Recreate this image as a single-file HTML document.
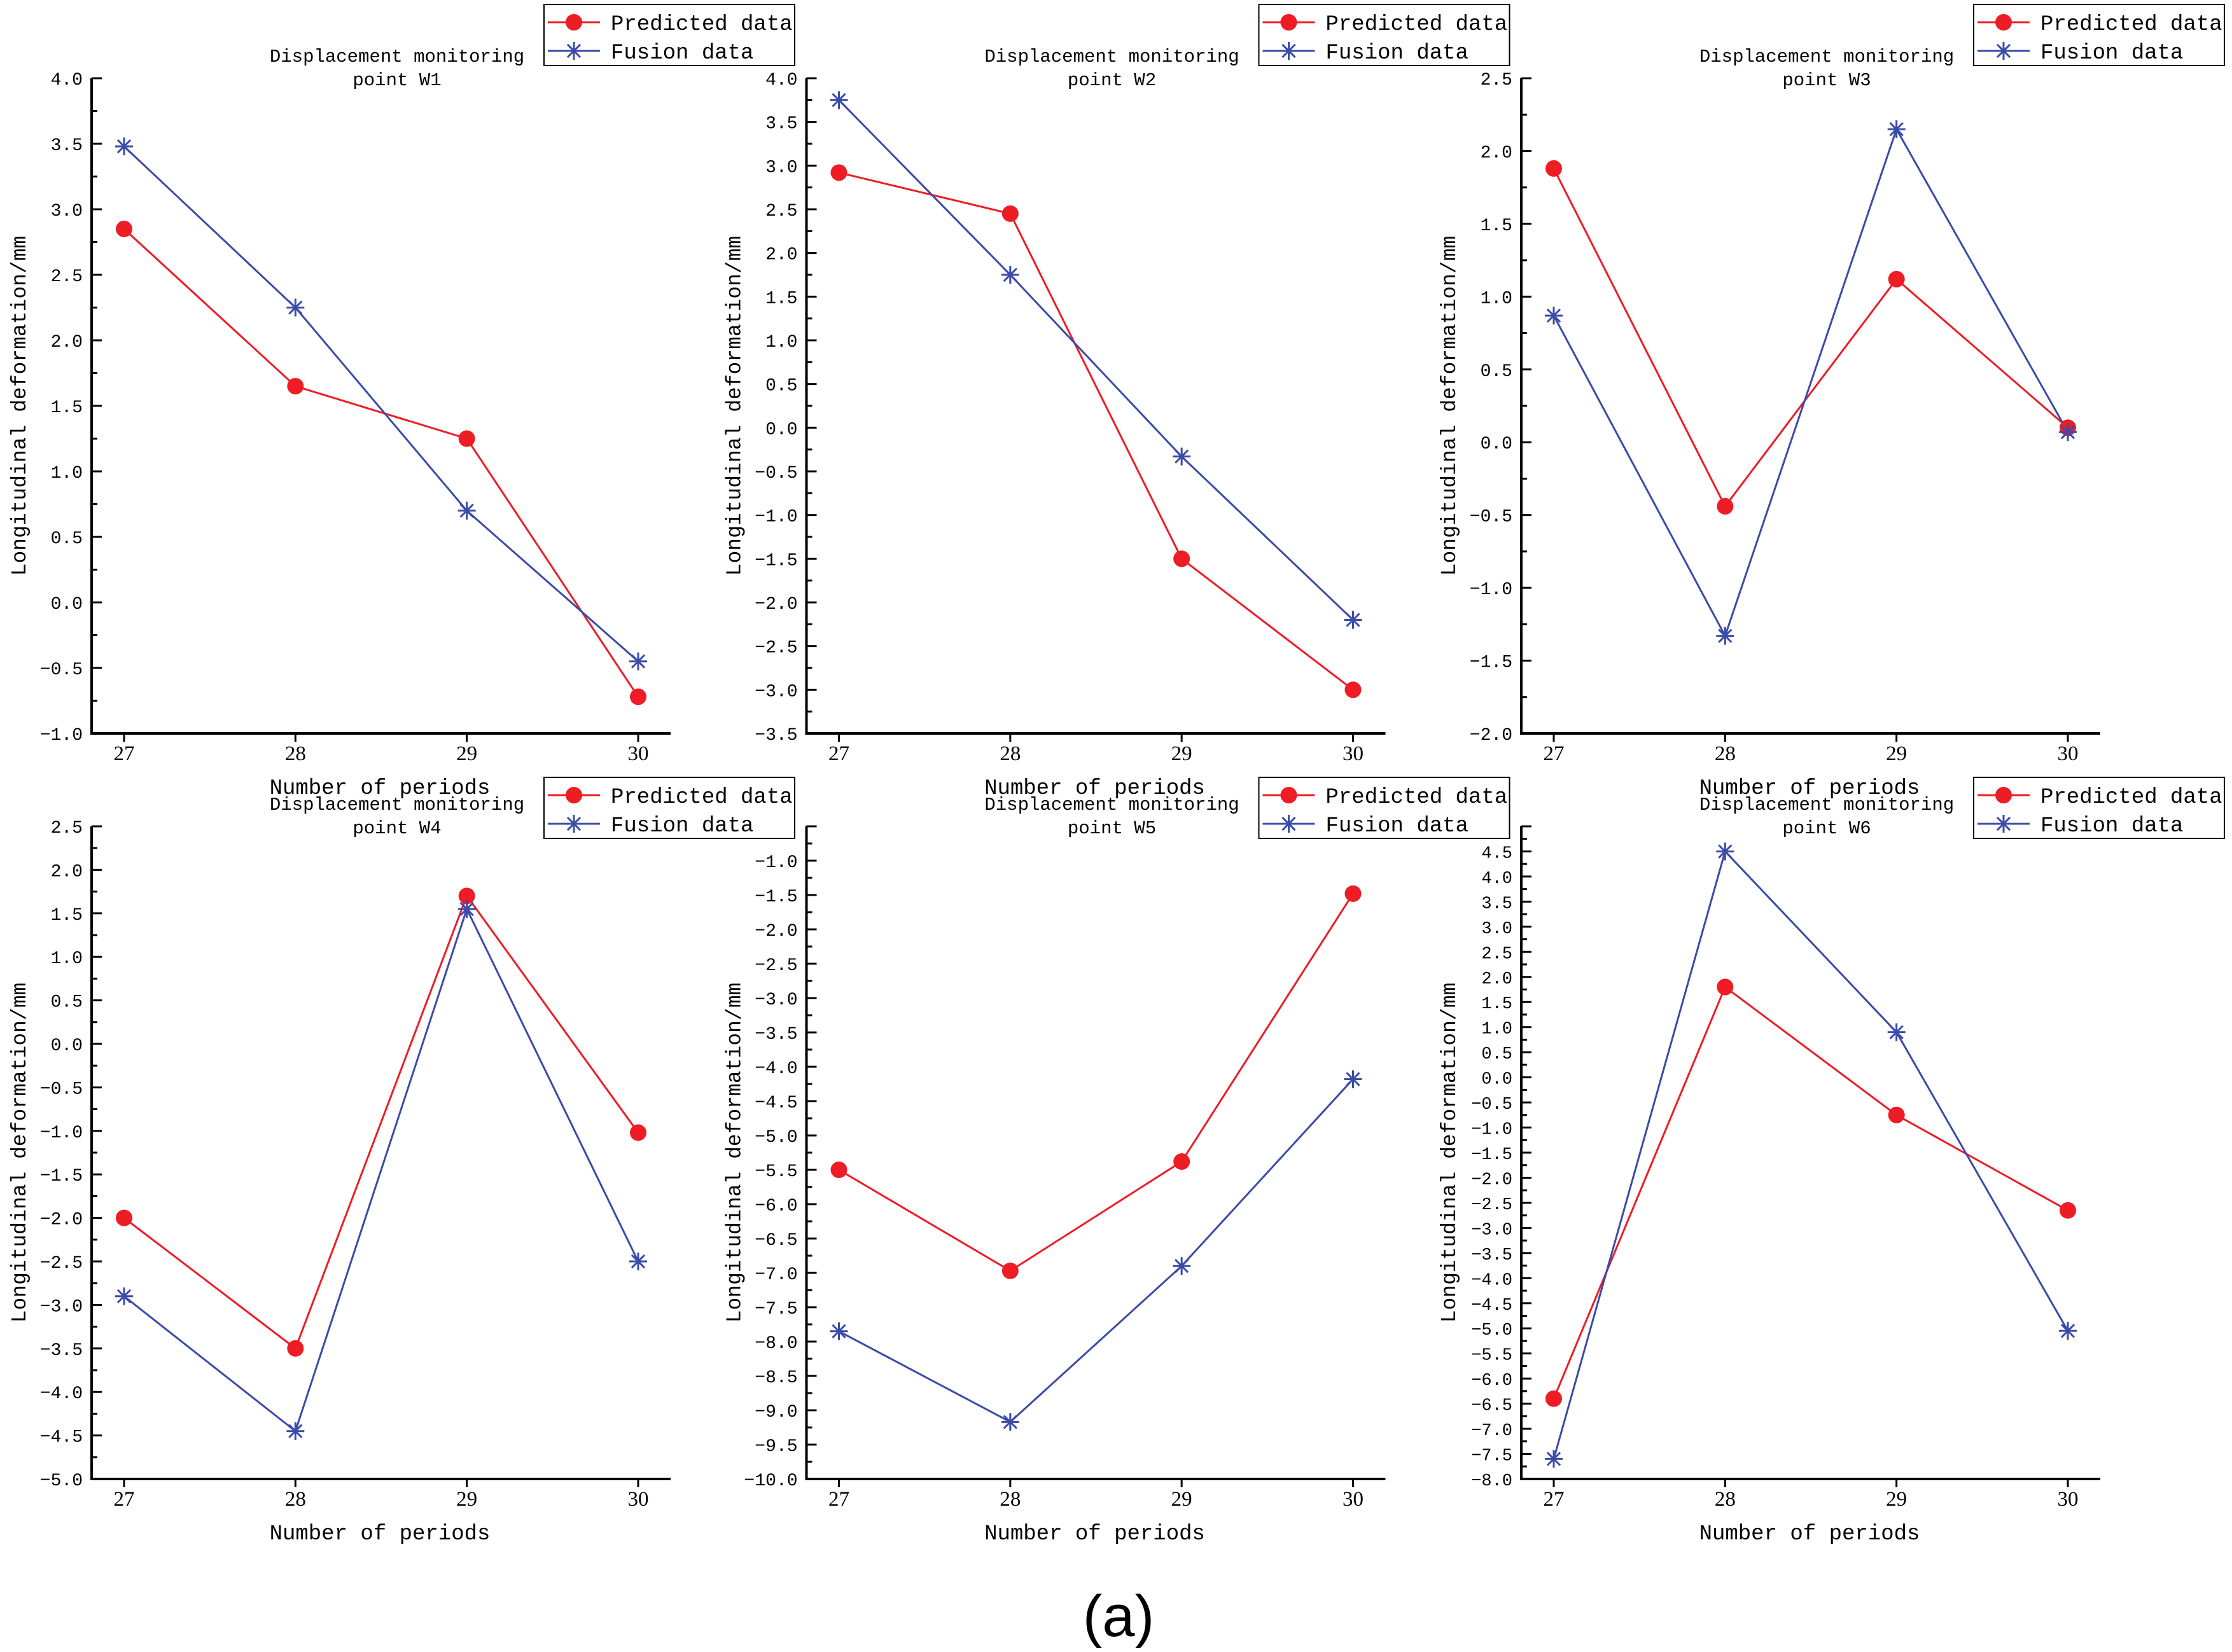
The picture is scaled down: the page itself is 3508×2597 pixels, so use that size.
<!DOCTYPE html>
<html><head><meta charset="utf-8"><style>
html,body{margin:0;padding:0;background:#fff;}
svg{display:block;}
</style></head><body>
<svg id="fig" width="3508" height="2597" viewBox="0 0 3508 2597" xmlns="http://www.w3.org/2000/svg"></svg>
<script>
const categories = [27, 28, 29, 30];
const titles = ["W1","W2","W3","W4","W5","W6"];
const predW1 = [2.85, 1.65, 1.25, -0.72];
const fusW1  = [3.48, 2.25, 0.70, -0.45];
const predW2 = [2.92, 2.45, -1.50, -3.00];
const fusW2  = [3.75, 1.75, -0.33, -2.20];
const predW3 = [1.88, -0.44, 1.12, 0.10];
const fusW3  = [0.87, -1.33, 2.15, 0.07];
const predW4 = [-2.0, -3.5, 1.7, -1.02];
const fusW4  = [-2.9, -4.45, 1.55, -2.5];
const predW5 = [-5.5, -6.97, -5.38, -1.48];
const fusW5  = [-7.85, -9.17, -6.9, -4.18];
const predW6 = [-6.4, 1.8, -0.75, -2.65];
const fusW6  = [-7.6, 4.5, 0.9, -5.05];
const yMins = [-1.0, -3.5, -2.0, -5.0, -10.0, -8.0];
const yMaxs = [4.0, 4.0, 2.5, 2.5, -0.5, 5.0];
const yLabelMaxs = [4.0, 4.0, 2.5, 2.5, -1.0, 4.5];

const preds=[predW1,predW2,predW3,predW4,predW5,predW6];
const fuss=[fusW1,fusW2,fusW3,fusW4,fusW5,fusW6];
const NS="http://www.w3.org/2000/svg";
const svg=document.getElementById('fig');
function mk(tag,attrs,parent,text){const e=document.createElementNS(NS,tag);for(const k in attrs)e.setAttribute(k,attrs[k]);if(text!==undefined)e.textContent=text;(parent||svg).appendChild(e);return e;}
const RED="#ee1c25", BLUE="#3a4ba8";
const MONO='"Liberation Mono", monospace';
const SERIF='"Liberation Serif", serif';

function star(g,x,y,r,name){
  const p=mk('path',{d:`M${x-r},${y}H${x+r}M${x},${y-r}V${y+r}M${x-r*0.72},${y-r*0.72}L${x+r*0.72},${y+r*0.72}M${x-r*0.72},${y+r*0.72}L${x+r*0.72},${y-r*0.72}`,stroke:BLUE,'stroke-width':3,fill:'none'},g);
  
  
}

for(let i=0;i<6;i++){
  const col=i%3,row=Math.floor(i/3);
  const ox=col*1123.5;
  const L=144+ox,R=1054+ox,T=row?1299:123,B=row?2325:1153;
  const x0=195+ox,x1=1003+ox;
  const ymin=yMins[i],ymax=yMaxs[i];
  const xs=c=>x0+(c-categories[0])/(categories[categories.length-1]-categories[0])*(x1-x0);
  const ys=v=>B-(v-ymin)/(ymax-ymin)*(B-T);
  const g=mk('g',{});
  
  
  const ax=mk('path',{d:`M${L},${T}V${B}H${R}`,stroke:'#000','stroke-width':4,fill:'none'},g);
  
  
  const n=Math.round((ymax-ymin)/0.25);
  for(let k=0;k<=n;k++){
    const v=ymin+k*0.25,y=ys(v);
    const major=k%2===0;
    mk('line',{x1:L,x2:L+(major?16:9),y1:y,y2:y,stroke:'#000','stroke-width':3},g);
    if(major && v<=yLabelMaxs[i]+1e-9){
      const t=mk('text',{x:L-14,y:y+10,'text-anchor':'end','font-family':MONO,'font-size':i===5?27:28,fill:'#000'},g,v.toFixed(1).replace('-','\u2212'));
      
      
    }
  }
  categories.forEach(c=>{
    const x=xs(c);
    mk('line',{x1:x,x2:x,y1:B,y2:B+13,stroke:'#000','stroke-width':3},g);
    const t=mk('text',{x:x,y:B+42,'text-anchor':'middle','font-family':SERIF,'font-size':33,fill:'#000'},g,String(c));
    
    
  });
  const xl=mk('text',{x:597+ox,y:B+95,'text-anchor':'middle','font-family':MONO,'font-size':34,fill:'#000'},g,'Number of periods');
  
  
  const cy=(T+B)/2;
  const yl=mk('text',{x:0,y:0,transform:`translate(${40+ox},${cy}) rotate(-90)`,'text-anchor':'middle','font-family':MONO,'font-size':33,fill:'#000'},g,'Longitudinal deformation/mm');
  
  
  const tt=mk('text',{x:624+ox,y:T-26,'text-anchor':'middle','font-family':MONO,'font-size':29,fill:'#000'},g);
  
  
  mk('tspan',{x:624+ox,dy:0},tt,'Displacement monitoring');
  mk('tspan',{x:624+ox,dy:37},tt,'point '+titles[i]);
  const pp=categories.map((c,j)=>xs(c)+','+ys(preds[i][j])).join(' ');
  const fp=categories.map((c,j)=>xs(c)+','+ys(fuss[i][j])).join(' ');
  const pl=mk('polyline',{points:pp,fill:'none',stroke:RED,'stroke-width':3},g);
  
  
  const fl=mk('polyline',{points:fp,fill:'none',stroke:BLUE,'stroke-width':3},g);
  
  
  categories.forEach((c,j)=>{
    const d=mk('circle',{cx:xs(c),cy:ys(preds[i][j]),r:13,fill:RED},g);
    
    
    star(g,xs(c),ys(fuss[i][j]),14,'fusion-point');
  });
  const lx=855+ox,ly=row?1222:7;
  const lg=mk('g',{},g);
  
  
  mk('rect',{x:lx,y:ly,width:394,height:96,fill:'#fff',stroke:'#000','stroke-width':2},lg);
  mk('line',{x1:lx+6,x2:lx+88,y1:ly+28,y2:ly+28,stroke:RED,'stroke-width':3},lg);
  mk('circle',{cx:lx+47,cy:ly+28,r:13,fill:RED},lg);
  const e1=mk('text',{x:lx+105,y:ly+40,'font-family':MONO,'font-size':34,fill:'#000'},lg,'Predicted data');
  
  
  mk('line',{x1:lx+6,x2:lx+88,y1:ly+73,y2:ly+73,stroke:BLUE,'stroke-width':3},lg);
  star(lg,lx+47,ly+73,14,'legend-marker-fusion');
  const e2=mk('text',{x:lx+105,y:ly+85,'font-family':MONO,'font-size':34,fill:'#000'},lg,'Fusion data');
  
  
}
const cap=mk('text',{x:1758,y:2572,'text-anchor':'middle','font-family':'"Liberation Sans", sans-serif','font-size':92,fill:'#000'},svg,'(a)');


</script>
</body></html>
